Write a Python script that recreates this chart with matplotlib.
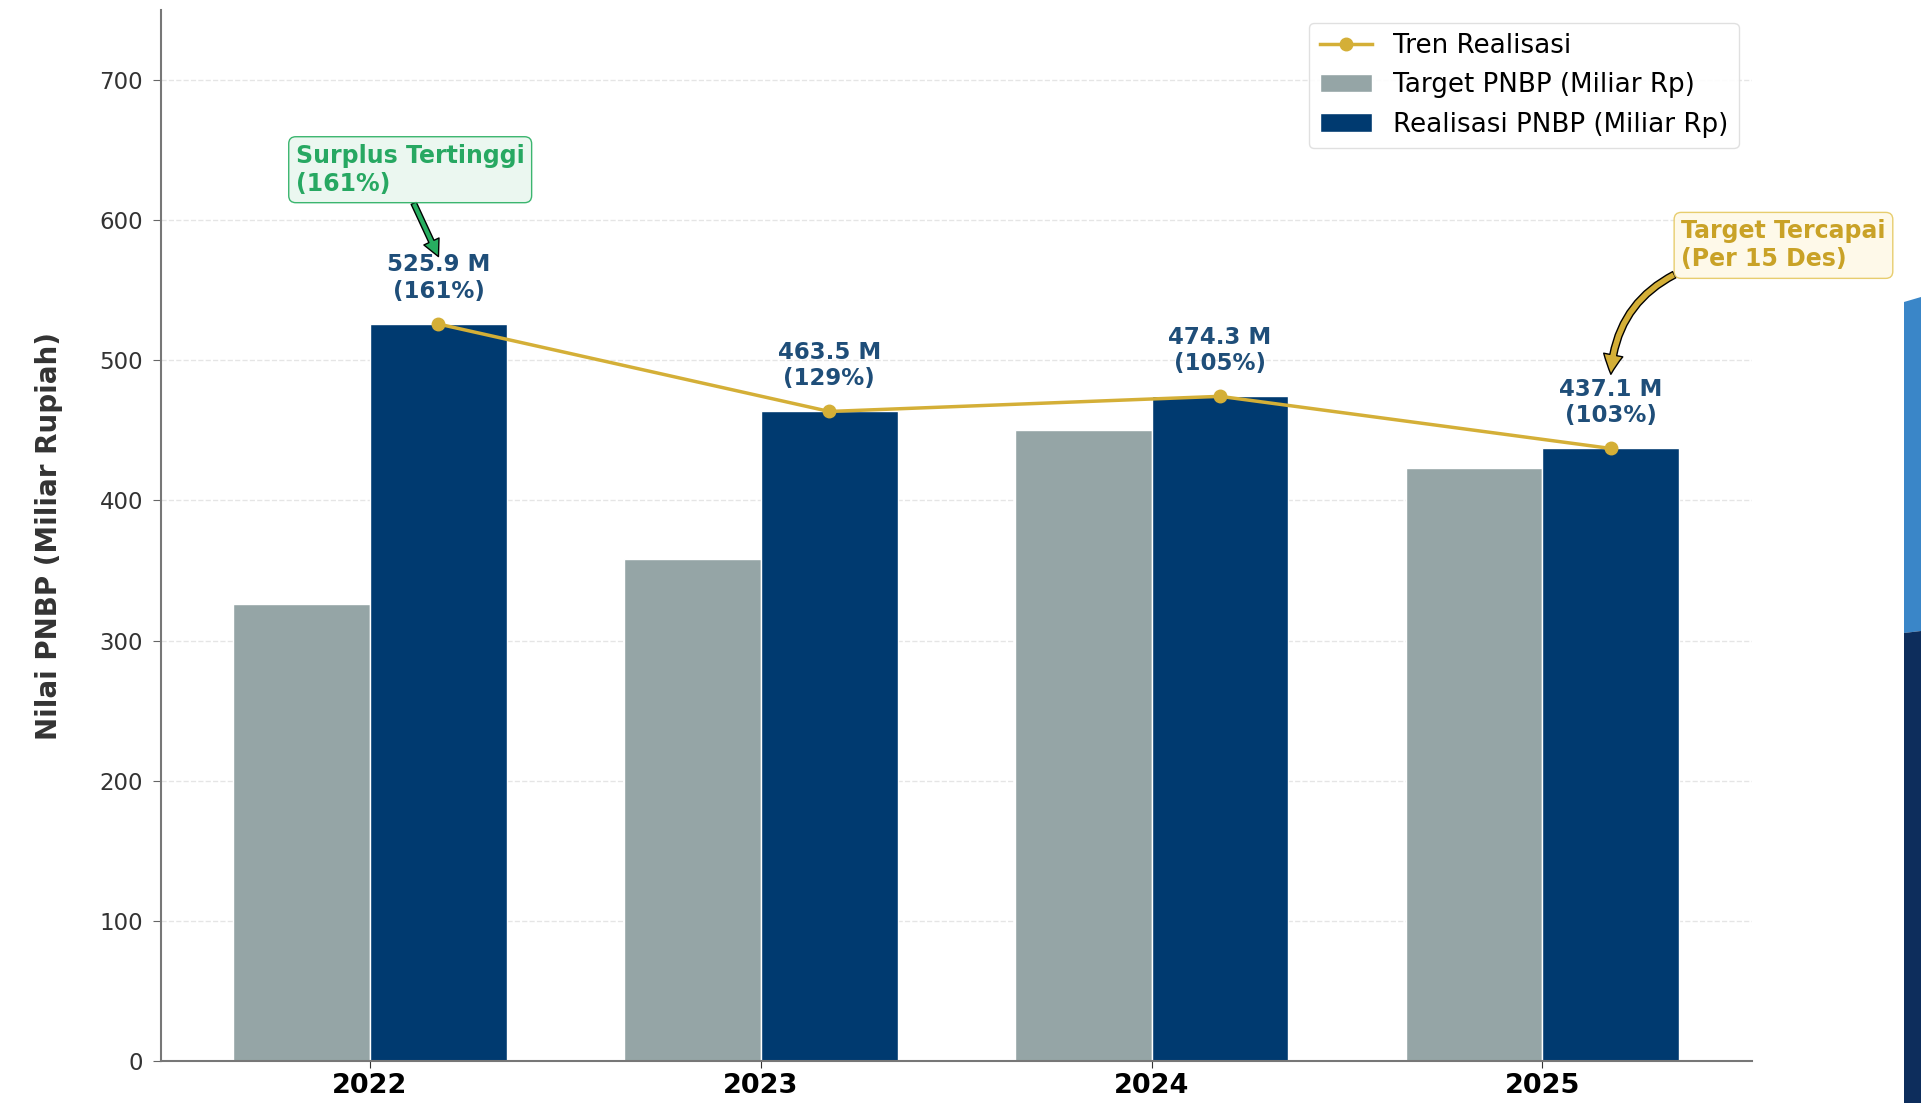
import numpy as np
import matplotlib
matplotlib.use("Agg")
import matplotlib.pyplot as plt
from matplotlib.patches import Polygon

years = ["2022", "2023", "2024", "2025"]
target = [326.0, 358.5, 450.5, 423.5]
realisasi = [525.9, 463.5, 474.3, 437.1]
persen = [161, 129, 105, 103]

gray = "#95A5A6"
navy = "#003A70"
gold = "#D4AF37"
label_color = "#1F4E79"

fig = plt.figure(figsize=(19.21, 11.03), dpi=100)
ax = fig.add_axes([0.0838, 0.038, 0.828, 0.953])

x = np.arange(len(years))
w = 0.35

ax.bar(x - w / 2, target, w, color=gray, edgecolor="white", linewidth=1,
       label="Target PNBP (Miliar Rp)", zorder=2)
ax.bar(x + w / 2, realisasi, w, color=navy, edgecolor="white", linewidth=1,
       label="Realisasi PNBP (Miliar Rp)", zorder=2)
ax.plot(x + w / 2, realisasi, color=gold, linewidth=2.5, marker="o",
        markersize=9, label="Tren Realisasi", zorder=4)

# value + percentage on top of each realisation bar
for xi, r, p in zip(x, realisasi, persen):
    ax.text(xi + w / 2, r + 15, f"{r:.1f} M\n({p}%)", ha="center", va="bottom",
            fontsize=16.5, fontweight="bold", color=label_color, zorder=5)

ax.annotate("Surplus Tertinggi\n(161%)", xy=(0 + w / 2, 574), xytext=(-0.19, 636),
            ha="left", va="center", fontsize=17, fontweight="bold", color="#27A862",
            bbox=dict(boxstyle="round,pad=0.3", facecolor="#E9F7EF", edgecolor="#27AE60",
                      alpha=0.9),
            arrowprops=dict(facecolor="#27AE60", edgecolor="black", linewidth=1),
            zorder=6)

ax.annotate("Target Tercapai\n(Per 15 Des)", xy=(3 + w / 2, 490), xytext=(3.355, 582),
            ha="left", va="center", fontsize=17, fontweight="bold", color="#C9A227",
            bbox=dict(boxstyle="round,pad=0.3", facecolor="#FEF9E7", edgecolor="#E5C860",
                      alpha=0.9),
            arrowprops=dict(facecolor=gold, edgecolor="black", linewidth=1,
                            width=5, headwidth=14, headlength=14,
                            connectionstyle="arc3,rad=0.3"),
            annotation_clip=False, zorder=6)

ax.set_ylim(0, 750)
ax.set_xticks(x)
ax.set_xticklabels(years, fontsize=19.5, fontweight="bold")
ax.tick_params(axis="y", labelsize=16.5, colors="#333333", length=6, pad=7,
               color="#666666")
ax.tick_params(axis="x", length=5, color="#333333")
ax.set_ylabel("Nilai PNBP (Miliar Rupiah)", fontsize=20, fontweight="bold",
              color="#333333", labelpad=26)

ax.grid(axis="y", linestyle="--", color="#cccccc", alpha=0.5, linewidth=1)
ax.set_axisbelow(True)
for side in ["top", "right"]:
    ax.spines[side].set_visible(False)
for side in ["left", "bottom"]:
    ax.spines[side].set_color("#777777")
    ax.spines[side].set_linewidth(1.5)

ax.legend(loc="upper right", fontsize=18.8, frameon=True, framealpha=0.9,
          edgecolor="#dddddd")

# slide background strip on the right edge
H = 1103.0
Wf = 1921.0
light = [(1904, 302), (1921, 297), (1921, 631), (1904, 633)]
dark = [(1904, 633), (1921, 631), (1921, 1103), (1904, 1103)]
for pts, col in [(light, "#3A86C8"), (dark, "#0D2D5C")]:
    fig.patches.append(Polygon([(px / Wf, 1 - py / H) for px, py in pts],
                               closed=True, transform=fig.transFigure,
                               facecolor=col, edgecolor="none"))

fig.savefig("out.png", dpi=100)
